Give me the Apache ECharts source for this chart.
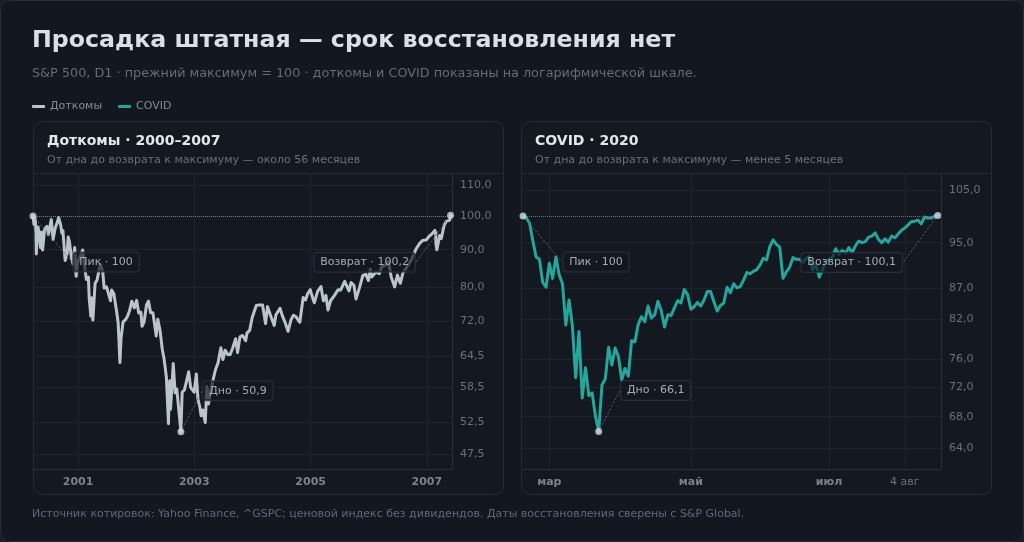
<!DOCTYPE html>
<html>
<head>
<meta charset="utf-8">
<script src="https://cdn.jsdelivr.net/npm/echarts@6.0.0/dist/echarts.min.js"></script>
<style>
  html, body { margin: 0; padding: 0; background: #1b1f2a; }
  #chart { width: 1024px; height: 542px; background: #131722; border-radius: 10px; overflow: hidden; }
</style>
</head>
<body>
<div id="chart"></div>
<script>
// S&P 500, prior high = 100. Dotcom: 2000-03-24 peak .. 2007-05-30 recovery
const dotcomDates = [
  '2000-03-24', '2000-03-30', '2000-04-03', '2000-04-04', '2000-04-07', '2000-04-12', '2000-04-14', '2000-04-18',
  '2000-04-25', '2000-05-01', '2000-05-10', '2000-05-16', '2000-05-23', '2000-06-05', '2000-06-20', '2000-06-29',
  '2000-07-17', '2000-07-28', '2000-08-11', '2000-08-24', '2000-09-01', '2000-09-14', '2000-09-21', '2000-09-28',
  '2000-10-12', '2000-10-18', '2000-10-25', '2000-10-31', '2000-11-08', '2000-11-20', '2000-11-30', '2000-12-06',
  '2000-12-11', '2000-12-20', '2000-12-29',
  '2001-01-10', '2001-01-30', '2001-02-09', '2001-02-22', '2001-03-07', '2001-03-12', '2001-03-16', '2001-03-22',
  '2001-03-27', '2001-04-04', '2001-04-18', '2001-04-30', '2001-05-21', '2001-06-05', '2001-06-14', '2001-06-29',
  '2001-07-24', '2001-07-31', '2001-08-14', '2001-08-31', '2001-09-10', '2001-09-21', '2001-09-28', '2001-10-11',
  '2001-10-26', '2001-11-07', '2001-11-21', '2001-12-05', '2001-12-21', '2001-12-31',
  '2002-01-04', '2002-01-17', '2002-01-31', '2002-02-07', '2002-02-20', '2002-03-07', '2002-03-19', '2002-04-02',
  '2002-04-16', '2002-04-30', '2002-05-07', '2002-05-17', '2002-05-31', '2002-06-14', '2002-06-25', '2002-07-03',
  '2002-07-10', '2002-07-23', '2002-07-26', '2002-07-31', '2002-08-05', '2002-08-22', '2002-09-03', '2002-09-13',
  '2002-09-30', '2002-10-09', '2002-10-17', '2002-10-31', '2002-11-12', '2002-11-27', '2002-12-09', '2002-12-31',
  '2003-01-14', '2003-01-24', '2003-02-05', '2003-02-13', '2003-02-24', '2003-03-11', '2003-03-21', '2003-03-31',
  '2003-04-14', '2003-04-30', '2003-05-15', '2003-05-30', '2003-06-17', '2003-06-30', '2003-07-14', '2003-07-31',
  '2003-08-14', '2003-08-29', '2003-09-18', '2003-09-30', '2003-10-15', '2003-10-31', '2003-11-20', '2003-11-28',
  '2003-12-15', '2003-12-31',
  '2004-01-26', '2004-02-11', '2004-03-05', '2004-03-24', '2004-04-05', '2004-04-21', '2004-05-17', '2004-05-28',
  '2004-06-23', '2004-07-07', '2004-07-23', '2004-08-12', '2004-08-31', '2004-09-15', '2004-09-30', '2004-10-25',
  '2004-11-15', '2004-11-30', '2004-12-13', '2004-12-30',
  '2005-01-03', '2005-01-24', '2005-02-14', '2005-03-07', '2005-03-22', '2005-04-07', '2005-04-20', '2005-05-06',
  '2005-05-31', '2005-06-22', '2005-07-08', '2005-08-03', '2005-08-30', '2005-09-12', '2005-09-30', '2005-10-13',
  '2005-11-04', '2005-11-25', '2005-12-14', '2005-12-30',
  '2006-01-11', '2006-01-20', '2006-02-15', '2006-03-08', '2006-03-24', '2006-04-20', '2006-05-05', '2006-05-22',
  '2006-06-13', '2006-06-30', '2006-07-18', '2006-08-04', '2006-08-31', '2006-09-29', '2006-10-24', '2006-11-17',
  '2006-12-05', '2006-12-29',
  '2007-01-12', '2007-02-05', '2007-02-20', '2007-02-26', '2007-02-27', '2007-03-05', '2007-03-14', '2007-03-23',
  '2007-04-02', '2007-04-20', '2007-05-03', '2007-05-14', '2007-05-24', '2007-05-30'
];
const dotcomValues = [
  100.0, 97.4, 98.6, 97.8, 99.3, 94.8, 88.8, 94.3,
  96.6, 96.3, 90.6, 95.1, 89.9, 96.0, 96.8, 94.4,
  98.9, 92.9, 96.4, 98.1, 99.5, 97.2, 94.8, 95.5,
  87.0, 87.9, 89.0, 93.6, 92.2, 87.9, 86.1, 88.4,
  90.6, 82.8, 86.4,
  86.0, 89.9, 86.1, 82.0, 82.6, 77.3, 75.7, 73.1,
  77.4, 72.2, 81.0, 81.8, 85.9, 84.1, 79.8, 80.1,
  76.7, 79.3, 78.4, 74.2, 71.6, 63.2, 68.2, 71.8,
  72.3, 73.0, 74.4, 76.6, 75.0, 75.2,
  76.8, 73.8, 74.0, 70.8, 71.8, 75.7, 76.6, 73.9,
  73.9, 70.5, 68.7, 72.4, 69.9, 65.9, 64.0, 62.1,
  60.3, 52.2, 55.8, 59.7, 54.6, 63.0, 57.5, 58.2,
  53.4, 50.9, 57.6, 58.0, 57.8, 61.4, 58.5, 57.6,
  61.0, 56.4, 55.0, 53.5, 54.5, 52.4, 58.6, 55.5,
  57.9, 60.0, 61.9, 63.1, 66.2, 63.8, 65.7, 64.8,
  64.8, 66.0, 68.1, 65.2, 68.5, 68.8, 67.7, 69.3,
  69.9, 72.8,
  75.6, 75.7, 75.7, 71.4, 75.3, 73.6, 71.0, 73.4,
  74.9, 73.2, 71.8, 69.7, 72.3, 73.3, 73.0, 71.7,
  77.5, 76.9, 78.4, 79.4,
  78.7, 76.2, 79.0, 80.2, 76.7, 78.0, 74.5, 76.7,
  78.0, 79.4, 79.3, 81.5, 79.1, 81.2, 80.5, 77.1,
  79.9, 83.0, 83.3, 81.7,
  84.7, 82.6, 83.9, 83.5, 85.3, 85.9, 86.7, 82.6,
  80.1, 83.1, 81.0, 83.7, 85.4, 87.5, 90.1, 91.8,
  92.6, 92.8,
  93.7, 94.7, 95.6, 94.9, 91.6, 90.0, 90.1, 94.1,
  93.2, 97.2, 98.3, 98.4, 98.7, 100.2
];
const dotcomYTicks = [47.5, 52.5, 58.5, 64.5, 72, 80, 90, 100, 110];
const dotcomXTicks = ['2001-01-01', '2003-01-01', '2005-01-01', '2007-01-01'];
const dotcomAnnDates = ['2000-03-24', '2002-10-09', '2007-05-30'];
const dotcomAnnValues = [100, 50.9, 100.2];
const dotcomAnnLabels = ['Пик · 100', 'Дно · 50,9', 'Возврат · 100,2'];

// COVID 2020: trading days 19 Feb .. 18 Aug
const covidDays = [
  '02-19', '02-20', '02-21', '02-24', '02-25', '02-26', '02-27', '02-28',
  '03-02', '03-03', '03-04', '03-05', '03-06', '03-09', '03-10', '03-11', '03-12', '03-13', '03-16', '03-17', '03-18',
  '03-19', '03-20', '03-23', '03-24', '03-25', '03-26', '03-27', '03-30', '03-31',
  '04-01', '04-02', '04-03', '04-06', '04-07', '04-08', '04-09', '04-13', '04-14', '04-15', '04-16', '04-17', '04-20',
  '04-21', '04-22', '04-23', '04-24', '04-27', '04-28', '04-29', '04-30',
  '05-01', '05-04', '05-05', '05-06', '05-07', '05-08', '05-11', '05-12', '05-13', '05-14', '05-15', '05-18', '05-19',
  '05-20', '05-21', '05-22', '05-26', '05-27', '05-28', '05-29',
  '06-01', '06-02', '06-03', '06-04', '06-05', '06-08', '06-09', '06-10', '06-11', '06-12', '06-15', '06-16', '06-17',
  '06-18', '06-19', '06-22', '06-23', '06-24', '06-25', '06-26', '06-29', '06-30',
  '07-01', '07-02', '07-06', '07-07', '07-08', '07-09', '07-10', '07-13', '07-14', '07-15', '07-16', '07-17', '07-20',
  '07-21', '07-22', '07-23', '07-24', '07-27', '07-28', '07-29', '07-30', '07-31',
  '08-03', '08-04', '08-05', '08-06', '08-07', '08-10', '08-11', '08-12', '08-13', '08-14', '08-17', '08-18'
];
const covidValues = [
  100.0, 99.6, 98.6, 95.3, 92.4, 92.0, 88.0, 87.2,
  91.3, 88.7, 92.4, 89.3, 87.8, 81.1, 85.1, 81.0, 73.3, 80.1, 70.5, 74.7, 70.8,
  71.2, 68.1, 66.1, 72.3, 73.1, 77.7, 75.1, 77.6, 76.3,
  73.0, 74.6, 73.5, 78.7, 78.5, 81.2, 82.4, 81.6, 84.1, 82.2, 82.7, 84.9, 83.4,
  80.8, 82.7, 82.6, 83.8, 85.0, 84.6, 86.8, 86.0,
  83.6, 84.0, 84.7, 84.1, 85.1, 86.5, 86.5, 84.8, 83.3, 84.2, 84.6, 87.2, 86.3,
  87.8, 87.1, 87.3, 88.4, 89.7, 89.5, 89.9,
  90.2, 91.0, 92.2, 91.9, 94.3, 95.5, 94.7, 94.2, 88.7, 89.8, 90.6, 92.3, 92.0,
  92.0, 91.5, 92.1, 92.5, 90.1, 91.1, 88.9, 90.2, 91.6,
  92.0, 92.4, 93.9, 92.9, 93.6, 93.1, 94.1, 93.2, 94.4, 95.3, 95.0, 95.2, 96.0,
  96.2, 96.8, 95.6, 95.0, 95.7, 95.1, 96.2, 95.9, 96.6,
  97.3, 97.7, 98.3, 98.9, 99.0, 99.2, 98.5, 99.8, 99.6, 99.6, 99.9, 100.1
];
const covidYTicks = [64, 68, 72, 76, 82, 87, 95, 105];
const covidXTickDays = ['03-02', '05-01', '07-01', '08-04'];
const covidXTickLabels = ['мар', 'май', 'июл', '4 авг'];
const covidXTickBold = [true, true, true, false];
const covidAnnDays = ['02-19', '03-23', '08-18'];
const covidAnnValues = [100, 66.1, 100.1];
const covidAnnLabels = ['Пик · 100', 'Дно · 66,1', 'Возврат · 100,1'];

const font = 'DejaVu Sans';
const dotcomColor = '#b9c4cc';
const covidColor = '#26a69a';
const gridColor = '#1f2430';
const axisColor = '#2a2f3b';
const labelColor = '#6c7080';
const annOffsets = [[73, 46], [57, -41], [-86, 47]];

const fmtNum = v => v.toFixed(1).replace('.', ',');
const ts = d => Date.parse(d);
const dotcomXTickTs = dotcomXTicks.map(ts);
const covidXTickIdx = covidXTickDays.map(d => covidDays.indexOf(d));

function yAxisFor (grid, min, max, ticks) {
  return {
    type: 'log', gridIndex: grid, position: 'right', min: min, max: max,
    axisLine: { show: true, onZero: false, lineStyle: { color: axisColor } },
    axisTick: { show: false, customValues: ticks },
    axisLabel: { customValues: ticks, formatter: fmtNum, color: labelColor, fontSize: 11, fontFamily: font, margin: 8 },
    splitLine: { show: true, lineStyle: { color: gridColor } }
  };
}

function annSeries (grid, data) {
  return {
    type: 'scatter', xAxisIndex: grid, yAxisIndex: grid, z: 5,
    symbol: 'circle', symbolSize: 7,
    itemStyle: { color: '#d5d9df' },
    data: data,
    label: {
      show: true, position: 'inside', formatter: '{b}',
      color: '#c9cdd6', fontSize: 11, fontFamily: font,
      backgroundColor: 'rgba(19,23,34,0.86)', borderColor: '#2e3340', borderWidth: 1,
      borderRadius: 3, padding: [4, 6]
    },
    labelLayout: p => ({ dx: annOffsets[p.dataIndex][0], dy: annOffsets[p.dataIndex][1] }),
    labelLine: { show: true, length2: 0, lineStyle: { color: '#5f6470', width: 1, type: [2, 2] } }
  };
}

const richX = {
  b: { fontWeight: 'bold', color: '#7e828e', fontSize: 11, fontFamily: font },
  n: { color: labelColor, fontSize: 11, fontFamily: font }
};

const chart = echarts.init(document.getElementById('chart'));
chart.setOption({
  animation: false,
  textStyle: { fontFamily: font },
  title: [
    { text: 'Просадка штатная — срок восстановления нет', left: 32, top: 29, padding: 0,
      textStyle: { color: '#dcdfe8', fontSize: 23.7, fontWeight: 'bold', fontFamily: font } },
    { text: 'S&P 500, D1 · прежний максимум = 100 · доткомы и COVID показаны на логарифмической шкале.', left: 32, top: 67, padding: 0,
      textStyle: { color: '#666b78', fontSize: 12.8, fontWeight: 'normal', fontFamily: font } },
    { text: 'Доткомы · 2000–2007', subtext: 'От дна до возврата к максимуму — около 56 месяцев', left: 47, top: 134, padding: 0, itemGap: 7,
      textStyle: { color: '#e4e6ec', fontSize: 14, fontWeight: 'bold', fontFamily: font },
      subtextStyle: { color: '#6b707c', fontSize: 11, fontFamily: font } },
    { text: 'COVID · 2020', subtext: 'От дна до возврата к максимуму — менее 5 месяцев', left: 535, top: 134, padding: 0, itemGap: 7,
      textStyle: { color: '#e4e6ec', fontSize: 14, fontWeight: 'bold', fontFamily: font },
      subtextStyle: { color: '#6b707c', fontSize: 11, fontFamily: font } },
    { text: 'Источник котировок: Yahoo Finance, ^GSPC; ценовой индекс без дивидендов. Даты восстановления сверены с S&P Global.', left: 32, top: 509, padding: 0,
      textStyle: { color: '#62677a', fontSize: 11, fontWeight: 'normal', fontFamily: font } }
  ],
  legend: {
    left: 32, top: 101, padding: 0, icon: 'roundRect', itemWidth: 13, itemHeight: 3, itemGap: 16,
    data: ['Доткомы', 'COVID'],
    textStyle: { color: '#858a96', fontSize: 11, fontFamily: font }
  },
  graphic: [
    { type: 'rect', silent: true, shape: { x: 0.5, y: 0.5, width: 1023, height: 541, r: 10 }, style: { fill: 'none', stroke: '#2a2e39', lineWidth: 1 } },
    { type: 'rect', silent: true, z: -1, shape: { x: 33.5, y: 121.5, width: 470, height: 373, r: 8 }, style: { fill: '#141821', stroke: '#262a35', lineWidth: 1 } },
    { type: 'rect', silent: true, z: -1, shape: { x: 521.5, y: 121.5, width: 470, height: 373, r: 8 }, style: { fill: '#141821', stroke: '#262a35', lineWidth: 1 } },
    { type: 'line', silent: true, shape: { x1: 34, y1: 173.5, x2: 503, y2: 173.5 }, style: { stroke: '#262a35', lineWidth: 1 } },
    { type: 'line', silent: true, shape: { x1: 522, y1: 173.5, x2: 991, y2: 173.5 }, style: { stroke: '#262a35', lineWidth: 1 } }
  ],
  grid: [
    { left: 33, right: 572, top: 173, bottom: 73 },
    { left: 523, right: 83, top: 173, bottom: 73 }
  ],
  xAxis: [
    {
      type: 'value', gridIndex: 0, min: ts('2000-03-24'), max: ts('2007-06-08'),
      axisLine: { show: true, onZero: false, lineStyle: { color: axisColor } },
      axisTick: { show: false, customValues: dotcomXTickTs },
      axisLabel: {
        customValues: dotcomXTickTs, margin: 8, rich: richX,
        formatter: v => '{b|' + new Date(v).getUTCFullYear() + '}'
      },
      splitLine: { show: true, lineStyle: { color: gridColor } }
    },
    {
      type: 'value', gridIndex: 1, min: 0, max: 127,
      axisLine: { show: true, onZero: false, lineStyle: { color: axisColor } },
      axisTick: { show: false, customValues: covidXTickIdx },
      axisLabel: {
        customValues: covidXTickIdx, margin: 8, rich: richX,
        formatter: v => {
          const i = covidXTickIdx.indexOf(Math.round(v));
          return (covidXTickBold[i] ? '{b|' : '{n|') + covidXTickLabels[i] + '}';
        }
      },
      splitLine: { show: true, lineStyle: { color: gridColor } }
    }
  ],
  yAxis: [
    yAxisFor(0, 45.3, 114.4, dotcomYTicks),
    yAxisFor(1, 61.5, 108.6, covidYTicks)
  ],
  series: [
    {
      name: 'Доткомы', type: 'line', xAxisIndex: 0, yAxisIndex: 0, z: 3,
      data: dotcomDates.map((d, i) => [ts(d), dotcomValues[i]]),
      showSymbol: false, symbol: 'none', color: dotcomColor,
      lineStyle: { width: 3, color: dotcomColor, join: 'round', cap: 'round' },
      markLine: {
        silent: true, symbol: 'none', label: { show: false },
        lineStyle: { color: '#70757f', type: 'dotted', width: 1 },
        data: [[{ coord: [ts(dotcomAnnDates[0]), 100] }, { coord: [ts(dotcomAnnDates[2]), 100] }]]
      }
    },
    {
      name: 'COVID', type: 'line', xAxisIndex: 1, yAxisIndex: 1, z: 3,
      data: covidValues.map((v, i) => [i, v]),
      showSymbol: false, symbol: 'none', color: covidColor,
      lineStyle: { width: 3, color: covidColor, join: 'round', cap: 'round' },
      markLine: {
        silent: true, symbol: 'none', label: { show: false },
        lineStyle: { color: '#70757f', type: 'dotted', width: 1 },
        data: [[{ coord: [0, 100] }, { coord: [covidDays.length - 1, 100] }]]
      }
    },
    annSeries(0, dotcomAnnDates.map((d, i) => ({ name: dotcomAnnLabels[i], value: [ts(d), dotcomAnnValues[i]] }))),
    annSeries(1, covidAnnDays.map((d, i) => ({ name: covidAnnLabels[i], value: [covidDays.indexOf(d), covidAnnValues[i]] })))
  ]
});
</script>
</body>
</html>
